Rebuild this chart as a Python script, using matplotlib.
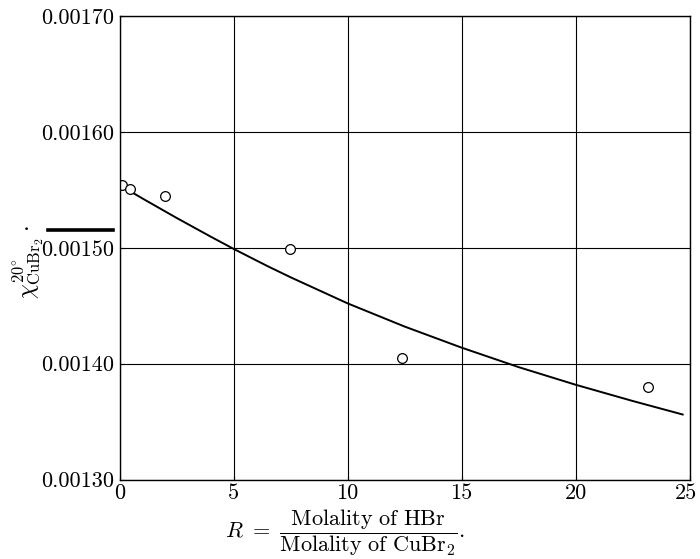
#!/usr/bin/env python3
"""
Magnetic susceptibility of CuBr2 vs. ratio R of HBr to CuBr2 molality
"""

import matplotlib
matplotlib.use("Agg")
import matplotlib.pyplot as plt
from matplotlib.lines import Line2D
from matplotlib.transforms import ScaledTranslation

# measured points (open circles)
R_OBS = [0.1, 0.43, 2.0, 7.45, 12.4, 23.2]
CHI_OBS = [0.001554, 0.001551, 0.0015445, 0.0014990, 0.0014050, 0.0013795]

# smooth curve
R_CURVE = [0.0, 1.0, 2.5, 4.0, 5.0, 6.5, 7.5, 10.0, 12.5, 15.0, 17.5, 20.0, 22.5, 24.7]
CHI_CURVE = [0.001554, 0.0015425, 0.0015257, 0.0015095, 0.001499, 0.001484, 0.0014745,
             0.001452, 0.001432, 0.0014138, 0.001397, 0.0013818, 0.0013678, 0.0013561]

X_TICKS = [0, 5, 10, 15, 20, 25]
Y_TICKS = [0.00130, 0.00140, 0.00150, 0.00160, 0.00170]

plt.rcParams['mathtext.fontset'] = 'cm'
plt.rcParams['font.family'] = ['cmr10', 'DejaVu Serif']
plt.rcParams['axes.unicode_minus'] = False


def main():
    fig = plt.figure(figsize=(7.0, 5.59), dpi=100)
    ax = fig.add_axes([0.171, 0.1422, 0.814, 0.8292])

    ax.plot(R_CURVE, CHI_CURVE, color='black', linewidth=1.4)
    ax.plot(R_OBS, CHI_OBS, linestyle='none', marker='o', markersize=7,
            markerfacecolor='white', markeredgecolor='black', markeredgewidth=0.9)

    ax.set_xlim(0, 25)
    ax.set_ylim(0.00130, 0.00170)
    ax.set_xticks(X_TICKS)
    ax.set_yticks(Y_TICKS)
    ax.set_xticklabels([str(t) for t in X_TICKS])
    ax.set_yticklabels([f'{t:.5f}' for t in Y_TICKS])
    ax.tick_params(axis='both', labelsize=16, length=3, direction='in', width=0.8, pad=4)
    ax.tick_params(axis='x', pad=3)
    ax.grid(True, color='black', linewidth=0.8)
    ax.set_axisbelow(True)
    for sp in ax.spines.values():
        sp.set_linewidth(1.0)

    # last x label sits a bit left so it isn't clipped
    last = ax.get_xticklabels()[-1]
    last.set_transform(last.get_transform() + ScaledTranslation(-4 / 100, 0, fig.dpi_scale_trans))

    # y label, rotated, with the stray thick stroke beside it
    fig.text(28 / 700, 1 - 262 / 559, r'$\chi^{20^{\circ}}_{\mathrm{CuBr_2}}\cdot$',
             rotation=90, ha='center', va='center', fontsize=17)
    fig.add_artist(Line2D([48 / 700, 113 / 700], [1 - 230 / 559, 1 - 230 / 559],
                          color='black', linewidth=2.6, transform=fig.transFigure))

    # x label as a fraction
    fig.text(345 / 700, 1 - 533 / 559,
             r'$R\ =\ \dfrac{\mathrm{Molality\ of\ HBr}}{\mathrm{Molality\ of\ CuBr_2}}.$',
             ha='center', va='center', fontsize=16)

    fig.savefig('out.png', dpi=100)


if __name__ == "__main__":
    main()
